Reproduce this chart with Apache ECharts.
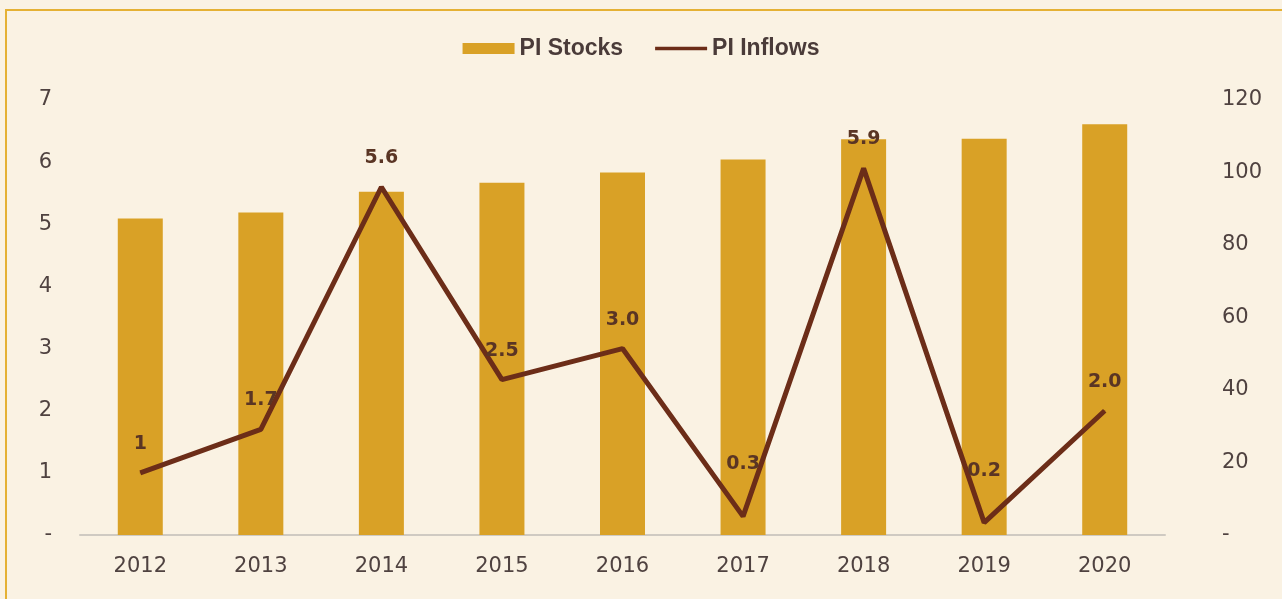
<!DOCTYPE html>
<html>
<head>
<meta charset="utf-8">
<script src="https://cdn.jsdelivr.net/npm/echarts@6/dist/echarts.min.js"></script>
<style>
  html, body { margin: 0; padding: 0; background: #faf2e3; }
  #chart { width: 1282px; height: 599px; }
</style>
</head>
<body>
<div id="chart"></div>
<script>
const years = ['2012', '2013', '2014', '2015', '2016', '2017', '2018', '2019', '2020'];
const piStocks = [87.3, 89.0, 94.7, 97.2, 100.0, 103.6, 109.2, 109.3, 113.3];
const piInflows = [1.0, 1.7, 5.6, 2.5, 3.0, 0.3, 5.9, 0.2, 2.0];
const inflowLabels = ['1', '1.7', '5.6', '2.5', '3.0', '0.3', '5.9', '0.2', '2.0'];
const leftTicks = { min: 0, max: 7, interval: 1 };
const rightTicks = { min: 0, max: 120, interval: 20 };

const textColor = '#4f4240';
const font = 'DejaVu Sans';

const lineData = piInflows.map((v) => ({
  value: v,
  label: { distance: v < 1 ? 42 : 19 }
}));

const chart = echarts.init(document.getElementById('chart'), null, { renderer: 'canvas' });
chart.setOption({
  backgroundColor: '#faf2e3',
  animation: false,
  graphic: [{
    type: 'rect',
    shape: { x: 6, y: 10, width: 1400, height: 700 },
    style: { fill: 'none', stroke: '#e5b134', lineWidth: 2 },
    silent: true
  }],
  legend: {
    top: 32,
    left: 'center',
    itemGap: 32,
    itemWidth: 52,
    itemHeight: 11,
    textStyle: { fontFamily: 'Liberation Sans', fontWeight: 'bold', fontSize: 23, color: '#4a3b39' },
    data: [
      { name: 'PI Stocks', icon: 'rect' },
      { name: 'PI Inflows', icon: 'path://M0,0 L60,0 L60,4 L0,4 Z' }
    ]
  },
  grid: { left: 80, width: 1085, top: 100, bottom: 64 },
  xAxis: {
    type: 'category',
    data: years,
    axisLine: { show: true, lineStyle: { color: '#cfcac2', width: 2 } },
    axisTick: { show: false },
    axisLabel: { fontFamily: font, fontSize: 21, color: textColor, margin: 21 }
  },
  yAxis: [
    {
      type: 'value',
      position: 'left',
      min: leftTicks.min, max: leftTicks.max, interval: leftTicks.interval,
      splitLine: { show: false },
      axisLine: { show: false },
      axisTick: { show: false },
      axisLabel: {
        fontFamily: font, fontSize: 21, color: textColor, margin: 28,
        formatter: v => (v === 0 ? '-' : String(v))
      }
    },
    {
      type: 'value',
      position: 'right',
      min: rightTicks.min, max: rightTicks.max, interval: rightTicks.interval,
      splitLine: { show: false },
      axisLine: { show: false },
      axisTick: { show: false },
      axisLabel: {
        fontFamily: font, fontSize: 21, color: textColor, margin: 57, align: 'left',
        formatter: v => (v === 0 ? '-' : String(v))
      }
    }
  ],
  series: [
    {
      name: 'PI Stocks',
      type: 'bar',
      yAxisIndex: 1,
      data: piStocks,
      barWidth: 45,
      itemStyle: { color: '#d9a126' }
    },
    {
      name: 'PI Inflows',
      type: 'line',
      yAxisIndex: 0,
      data: lineData,
      symbol: 'circle',
      symbolSize: 1,
      lineStyle: { color: '#6c2d18', width: 5 },
      itemStyle: { color: '#6c2d18' },
      z: 5,
      label: {
        show: true,
        position: 'top',
        fontFamily: font,
        fontWeight: 'bold',
        fontSize: 19,
        color: '#5a3524',
        formatter: p => inflowLabels[p.dataIndex]
      }
    }
  ]
});
</script>
</body>
</html>
